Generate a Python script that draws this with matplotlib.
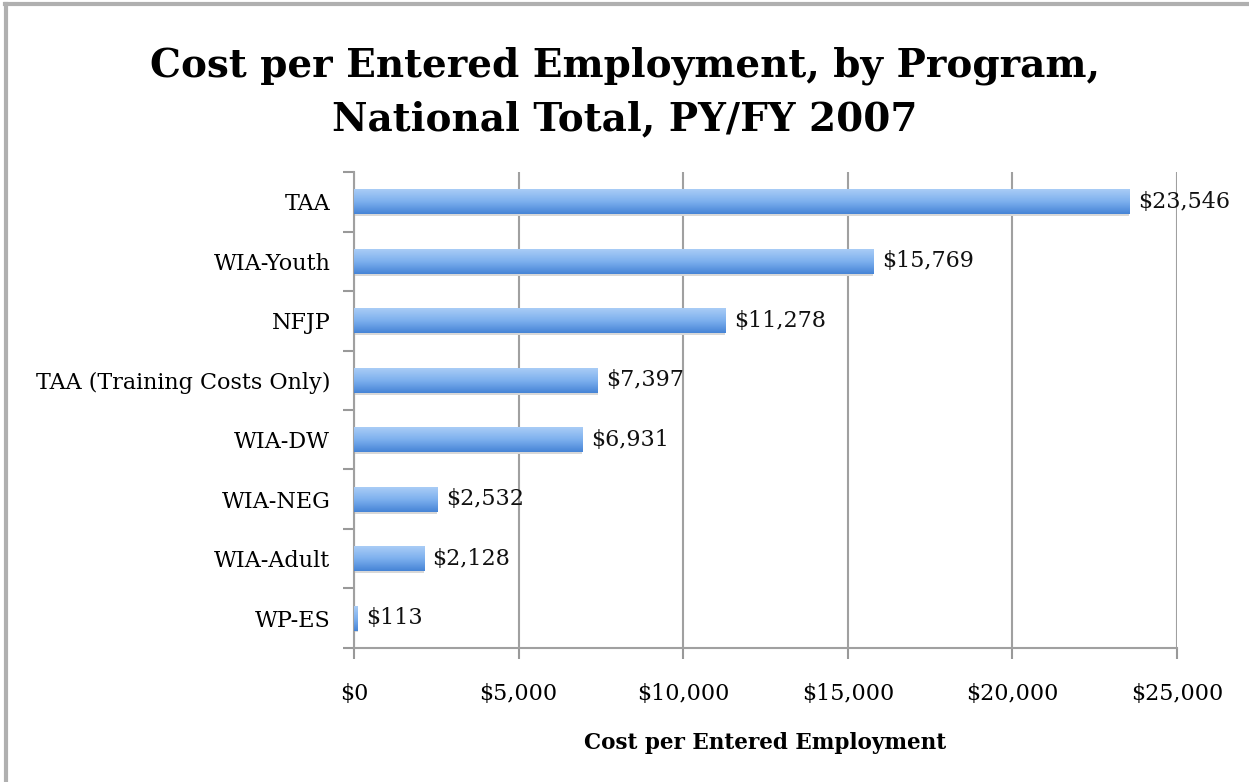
import matplotlib.pyplot as plt
import numpy as np
from matplotlib.lines import Line2D
from matplotlib.colors import LinearSegmentedColormap

programs = ['TAA', 'WIA-Youth', 'NFJP', 'TAA (Training Costs Only)',
            'WIA-DW', 'WIA-NEG', 'WIA-Adult', 'WP-ES']
costs = [23546, 15769, 11278, 7397, 6931, 2532, 2128, 113]
x_ticks = [0, 5000, 10000, 15000, 20000, 25000]

plt.rcParams['font.family'] = ['DejaVu Serif']

fig = plt.figure(figsize=(12.49, 7.82), dpi=100)
ax = fig.add_axes([0.2834, 0.1714, 0.659, 0.6086])

y = np.arange(len(programs))[::-1]
bars = ax.barh(y, costs, height=0.42, color='#6aa3e6', zorder=3)

# vertical gradient inside each bar, light on top, darker at the bottom
grad = LinearSegmentedColormap.from_list('barblue', ['#4684d6', '#7db0ee', '#a9ccf6'])
g = np.linspace(0, 1, 64).reshape(-1, 1)
for b in bars:
    x0, y0 = b.get_x(), b.get_y()
    w, h = b.get_width(), b.get_height()
    im = ax.imshow(g, cmap=grad, aspect='auto', origin='lower',
                   extent=[x0, x0 + w, y0, y0 + h], zorder=3.5)
    im.set_clip_path(b)
    # faint shadow under the bar
    ax.barh(y0 - 0.03 + h / 2, w, height=h, color='#d8d8d8', zorder=2.5)

for yi, c in zip(y, costs):
    ax.text(c + 260, yi, '${:,}'.format(c), va='center', ha='left',
            fontsize=16, color='#111111', zorder=4)

ax.set_xlim(0, 25000)
ax.set_ylim(-0.5, len(programs) - 0.5)
ax.set_xticks(x_ticks)
ax.set_xticklabels(['${:,}'.format(t) for t in x_ticks], fontsize=16)
ax.set_yticks(y)
ax.set_yticklabels(programs, fontsize=16)
ax.set_yticks(np.arange(-0.5, len(programs), 1), minor=True)
ax.tick_params(axis='y', which='major', length=0, pad=17)
ax.tick_params(axis='y', which='minor', length=8, color='#999999', width=1.5)
ax.tick_params(axis='x', length=8, color='#999999', width=1.5, pad=17)
ax.grid(axis='x', color='#a0a0a0', linewidth=1.5, zorder=0)

for side in ['top', 'right']:
    ax.spines[side].set_visible(False)
for side in ['left', 'bottom']:
    ax.spines[side].set_color('#a0a0a0')
    ax.spines[side].set_linewidth(1.5)

ax.set_xlabel('Cost per Entered Employment', fontsize=15.5, fontweight='bold',
              labelpad=20)

fig.text(0.5, 0.94, 'Cost per Entered Employment, by Program,\nNational Total, PY/FY 2007',
         ha='center', va='top', fontsize=28, fontweight='bold', linespacing=1.5)

# outer frame pieces visible in the reference
fig.add_artist(Line2D([0.004, 1], [0.995, 0.995], color='#b0b0b0', linewidth=3,
                      transform=fig.transFigure))
fig.add_artist(Line2D([0.005, 0.005], [0, 0.995], color='#b0b0b0', linewidth=3,
                      transform=fig.transFigure))

fig.savefig('out.png', dpi=100)
